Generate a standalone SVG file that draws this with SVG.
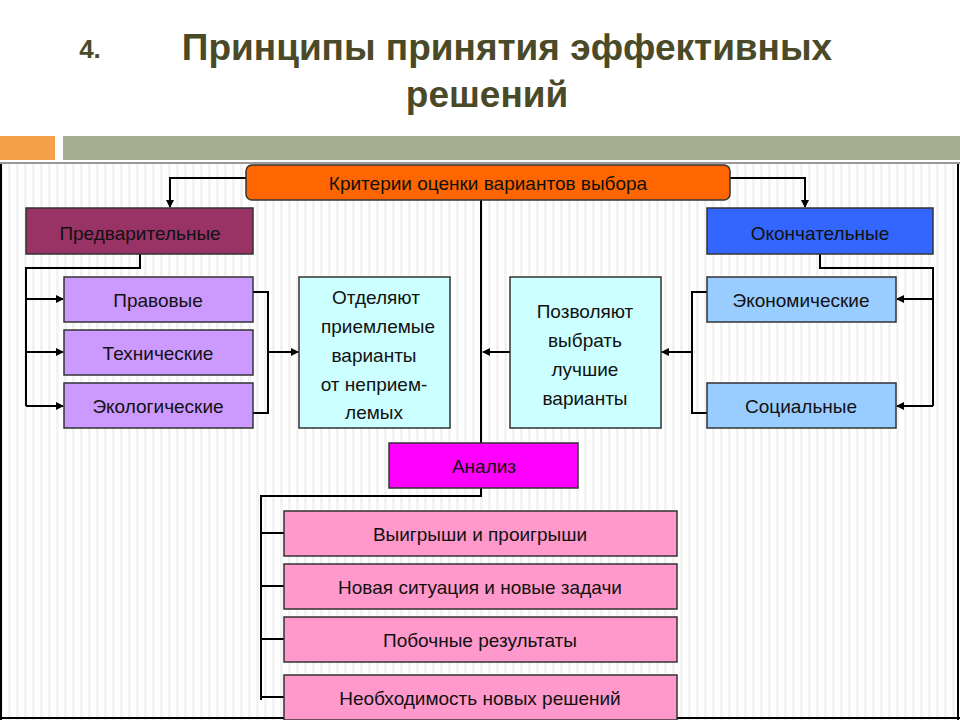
<svg xmlns="http://www.w3.org/2000/svg" width="960" height="720" viewBox="0 0 960 720">
<defs>
<pattern id="str" width="8" height="8" patternUnits="userSpaceOnUse"><rect width="8" height="8" fill="#fff"/><rect x="0" width="3" height="8" fill="#f3f3f3"/></pattern>
<marker id="ar" markerWidth="8" markerHeight="8" refX="7" refY="4" orient="auto" markerUnits="userSpaceOnUse"><path d="M0,0 L8,4 L0,8 z" fill="#000"/></marker>
</defs>
<style>
.b{stroke:#333;stroke-width:1.5}
.t{font-family:"Liberation Sans",Arial,sans-serif;font-size:19px;fill:#111;text-anchor:middle}
.c{fill:none;stroke:#000;stroke-width:2}
.a{marker-end:url(#ar)}
</style>
<rect width="960" height="720" fill="#fff"/>
<rect x="0" y="163" width="960" height="557" fill="url(#str)"/>
<line x1="1" y1="163" x2="1" y2="720" stroke="#000" stroke-width="2"/>
<line x1="958" y1="163" x2="958" y2="720" stroke="#000" stroke-width="2"/>
<line x1="0" y1="163" x2="960" y2="163" stroke="#999" stroke-width="2"/>
<line x1="0" y1="718" x2="960" y2="718" stroke="#000" stroke-width="2"/>
<g id="title" font-family="'Liberation Sans',Arial,sans-serif" font-weight="bold" fill="#4a4a28" text-anchor="middle">
<text x="90" y="58" font-size="26">4.</text>
<text x="507" y="60" font-size="37">Принципы принятия эффективных</text>
<text x="487" y="107" font-size="37">решений</text>
</g>
<rect x="0" y="136" width="55" height="24" fill="#f4a24a"/>
<rect x="63" y="136" width="897" height="24" fill="#a5ae8e"/>
<g id="connectors">
<path class="c a" d="M246,178 H170 V207"/>
<path class="c a" d="M730,178 H805 V207"/>
<path class="c" d="M481,200 V443"/>
<path class="c" d="M140,254 V268 H26 V406"/>
<path class="c a" d="M26,299 H63"/>
<path class="c a" d="M26,352 H63"/>
<path class="c a" d="M26,406 H63"/>
<path class="c" d="M253,292 H268 V413 H253"/>
<path class="c a" d="M268,352 H298"/>
<path class="c" d="M820,254 V268 H933 V406"/>
<path class="c a" d="M933,299 H897"/>
<path class="c a" d="M933,406 H897"/>
<path class="c" d="M707,292 H692 V413 H707"/>
<path class="c a" d="M692,352 H662"/>
<path class="c a" d="M510,352 H483"/>
<path class="c" d="M481,488 V496 H261 V700"/>
<path class="c" d="M261,533 H284 M261,586 H284 M261,639 H284 M261,697 H284"/>
</g>
<g id="n-main"><rect class="b" x="246" y="165" width="484" height="35" rx="6" fill="#ff6600"/><text class="t" x="488" y="190">Критерии оценки вариантов выбора</text></g>
<g id="n-pred"><rect class="b" x="26" y="208" width="227" height="46" fill="#993366"/><text class="t" x="140" y="240">Предварительные</text></g>
<g id="n-okon"><rect class="b" x="707" y="208" width="226" height="46" fill="#3366ff"/><text class="t" x="820" y="240">Окончательные</text></g>
<g id="n-prav"><rect class="b" x="64" y="277" width="189" height="45" fill="#cc99ff"/><text class="t" x="158" y="307">Правовые</text></g>
<g id="n-tech"><rect class="b" x="64" y="330" width="189" height="45" fill="#cc99ff"/><text class="t" x="158" y="360">Технические</text></g>
<g id="n-eco"><rect class="b" x="64" y="383" width="189" height="45" fill="#cc99ff"/><text class="t" x="158" y="413">Экологические</text></g>
<g id="n-econ"><rect class="b" x="707" y="277" width="189" height="45" fill="#99ccff"/><text class="t" x="801" y="307">Экономические</text></g>
<g id="n-soc"><rect class="b" x="707" y="383" width="189" height="45" fill="#99ccff"/><text class="t" x="801" y="413">Социальные</text></g>
<g id="n-otd"><rect class="b" x="299" y="277" width="151" height="151" fill="#ccffff"/>
<text class="t" x="376" y="304">Отделяют</text><text class="t" x="378" y="333">приемлемые</text><text class="t" x="374" y="362">варианты</text><text class="t" x="374" y="391">от неприем-</text><text class="t" x="374" y="419">лемых</text></g>
<g id="n-poz"><rect class="b" x="510" y="277" width="151" height="151" fill="#ccffff"/>
<text class="t" x="585" y="318">Позволяют</text><text class="t" x="585" y="347">выбрать</text><text class="t" x="585" y="376">лучшие</text><text class="t" x="585" y="405">варианты</text></g>
<g id="n-anal"><rect class="b" x="389" y="443" width="189" height="45" fill="#ff00ff"/><text class="t" x="484" y="473">Анализ</text></g>
<g id="n-p1"><rect class="b" x="284" y="511" width="393" height="45" fill="#ff99cc"/><text class="t" x="480" y="541">Выигрыши и проигрыши</text></g>
<g id="n-p2"><rect class="b" x="284" y="564" width="393" height="45" fill="#ff99cc"/><text class="t" x="480" y="594">Новая ситуация и новые задачи</text></g>
<g id="n-p3"><rect class="b" x="284" y="617" width="393" height="45" fill="#ff99cc"/><text class="t" x="480" y="647">Побочные результаты</text></g>
<g id="n-p4"><rect class="b" x="284" y="675" width="393" height="45" fill="#ff99cc"/><text class="t" x="480" y="705">Необходимость новых решений</text></g>
</svg>
